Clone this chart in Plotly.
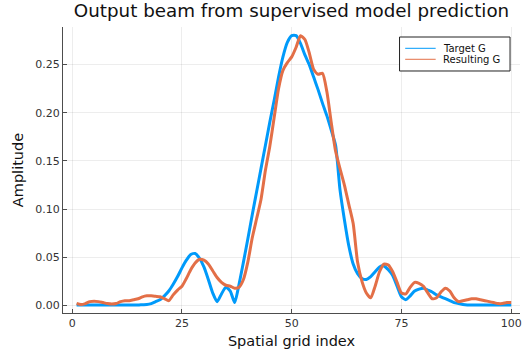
import plotly.graph_objects as go

x_index = list(range(1, 101))

target_g = [
    0.0005, 0.0005, 0.0005, 0.0005, 0.0005, 0.0005, 0.0005, 0.0005, 0.0005, 0.0005,
    0.0005, 0.0005, 0.0005, 0.0005, 0.0005, 0.0008, 0.001, 0.002, 0.004, 0.006,
    0.010, 0.015, 0.022, 0.030, 0.039, 0.047, 0.053, 0.054, 0.049, 0.040,
    0.027, 0.013, 0.004, 0.012, 0.019, 0.015, 0.003, 0.022, 0.045, 0.069,
    0.094, 0.118, 0.142, 0.166, 0.190, 0.213, 0.237, 0.258, 0.273, 0.280,
    0.280, 0.272, 0.260, 0.250, 0.237, 0.224, 0.210, 0.197, 0.182, 0.166,
    0.120, 0.089, 0.062, 0.043, 0.033, 0.028, 0.027, 0.030, 0.035, 0.040,
    0.041, 0.037, 0.031, 0.020, 0.009, 0.006, 0.010, 0.015, 0.017, 0.018,
    0.016, 0.014, 0.011, 0.009, 0.007, 0.005, 0.003, 0.002, 0.001, 0.0005,
    0.0005, 0.0005, 0.0005, 0.0005, 0.0005, 0.0005, 0.0005, 0.0005, 0.0005, 0.0005,
]

resulting_g = [
    0.002, 0.001, 0.002, 0.004, 0.0045, 0.004, 0.003, 0.002, 0.0015, 0.002,
    0.004, 0.005, 0.005, 0.006, 0.007, 0.009, 0.010, 0.010, 0.0095, 0.009,
    0.007, 0.005, 0.011, 0.016, 0.020, 0.028, 0.037, 0.044, 0.048, 0.047,
    0.043, 0.036, 0.029, 0.024, 0.021, 0.020, 0.018, 0.019, 0.027, 0.045,
    0.070, 0.090, 0.110, 0.140, 0.165, 0.195, 0.225, 0.244, 0.252, 0.258,
    0.268, 0.280, 0.276, 0.262, 0.245, 0.240, 0.241, 0.222, 0.190, 0.160,
    0.142, 0.125, 0.105, 0.085, 0.045, 0.025, 0.013, 0.008, 0.020, 0.035,
    0.043, 0.042, 0.035, 0.024, 0.013, 0.012, 0.019, 0.024, 0.023, 0.020,
    0.013, 0.007, 0.008, 0.014, 0.018, 0.015, 0.008, 0.004, 0.005, 0.006,
    0.007, 0.007, 0.006, 0.005, 0.004, 0.003, 0.002, 0.002, 0.003, 0.003,
]

series_names = ["Target G", "Resulting G"]
series_colors = ["#009AFA", "#E36F47"]

x_ticks = [0, 25, 50, 75, 100]
y_ticks = [0.00, 0.05, 0.10, 0.15, 0.20, 0.25]
y_tick_labels = ["0.00", "0.05", "0.10", "0.15", "0.20", "0.25"]

FONT = "DejaVu Sans"

fig = go.Figure()
for name, values, color in zip(series_names, [target_g, resulting_g], series_colors):
    fig.add_trace(go.Scatter(
        x=x_index, y=values, mode="lines", name=name, showlegend=False,
        line=dict(color=color, width=3, shape="spline", smoothing=0.6),
    ))

axis_common = dict(
    showline=True, linecolor="#4d4d4d", linewidth=1, mirror=False,
    showgrid=True, gridcolor="rgba(0,0,0,0.07)", gridwidth=1,
    zeroline=False, ticks="inside", ticklen=4, tickcolor="#4d4d4d",
    tickfont=dict(family=FONT, size=11, color="#333333"),
    ticklabeloverflow="allow",
)

# Legend box drawn in paper coordinates (Plots.jl-style compact legend)
LEG_X0, LEG_X1, LEG_Y0, LEG_Y1 = 0.7364, 0.9782, 0.8462, 0.965
LINE_X0, LINE_X1, TEXT_X = 0.7488, 0.8155, 0.8272
ROW_Y = [0.9255, 0.8871]

shapes = [dict(type="rect", xref="paper", yref="paper",
               x0=LEG_X0, x1=LEG_X1, y0=LEG_Y0, y1=LEG_Y1,
               line=dict(color="#222222", width=1), fillcolor="white", layer="above")]
annotations = []
for name, color, ry in zip(series_names, series_colors, ROW_Y):
    shapes.append(dict(type="line", xref="paper", yref="paper",
                       x0=LINE_X0, x1=LINE_X1, y0=ry, y1=ry,
                       line=dict(color=color, width=1), layer="above"))
    annotations.append(dict(xref="paper", yref="paper", x=TEXT_X, y=ry,
                            text=name, showarrow=False, xanchor="left", yanchor="middle",
                            font=dict(family=FONT, size=10, color="#111111")))

fig.update_layout(
    width=522, height=353,
    margin=dict(l=63, r=0, t=27, b=40),
    paper_bgcolor="white", plot_bgcolor="white",
    title=dict(
        text="Output beam from supervised model prediction",
        font=dict(family=FONT, size=18.3, color="#111111"),
        x=0.5, xref="paper", xanchor="center",
        y=1 - 11 / 353, yref="container", yanchor="middle",
    ),
    xaxis=dict(
        range=[-2.1, 102.0], tickvals=x_ticks,
        title=dict(text="Spatial grid index", font=dict(family=FONT, size=14.5, color="#111111"), standoff=6),
        **axis_common,
    ),
    yaxis=dict(
        range=[-0.0078, 0.289], tickvals=y_ticks, ticktext=y_tick_labels,
        title=dict(text="Amplitude", font=dict(family=FONT, size=14.5, color="#111111"), standoff=8),
        **axis_common,
    ),
    shapes=shapes,
    annotations=annotations,
    showlegend=False,
)

fig.write_html("out.html")
